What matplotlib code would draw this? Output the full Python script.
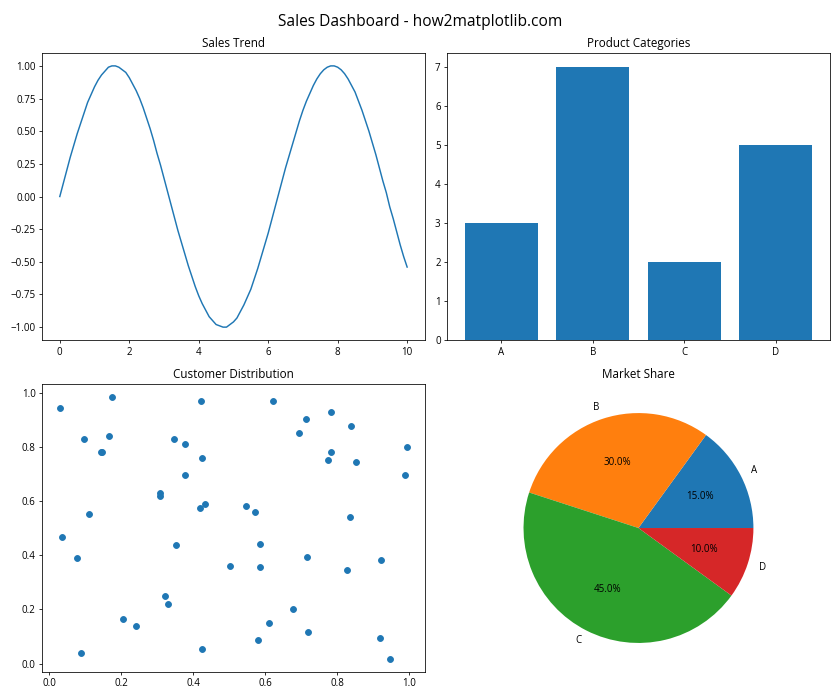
import matplotlib
matplotlib.use("Agg")
import matplotlib.pyplot as plt

plt.rcParams['font.family'] = ['Open Sans', 'DejaVu Sans']

# Sales trend (x from 0 to 10 in steps of 0.1)
trend_x = [i / 10 for i in range(101)]
trend_y = [0.00, 0.10, 0.20, 0.30, 0.39, 0.48, 0.56, 0.64, 0.72, 0.78,
           0.84, 0.89, 0.93, 0.96, 0.99, 1.00, 1.00, 0.99, 0.97, 0.95,
           0.91, 0.86, 0.81, 0.75, 0.68, 0.60, 0.52, 0.43, 0.33, 0.24,
           0.14, 0.04, -0.06, -0.16, -0.26, -0.35, -0.44, -0.53, -0.61, -0.69,
           -0.76, -0.82, -0.87, -0.92, -0.95, -0.98, -0.99, -1.00, -1.00, -0.98,
           -0.96, -0.93, -0.88, -0.83, -0.77, -0.71, -0.63, -0.55, -0.46, -0.37,
           -0.28, -0.18, -0.08, 0.02, 0.12, 0.22, 0.31, 0.40, 0.49, 0.58,
           0.66, 0.73, 0.79, 0.85, 0.90, 0.94, 0.97, 0.99, 1.00, 1.00,
           0.99, 0.97, 0.94, 0.90, 0.85, 0.80, 0.73, 0.66, 0.58, 0.50,
           0.41, 0.32, 0.22, 0.12, 0.03, -0.08, -0.17, -0.27, -0.37, -0.46,
           -0.54]

# Product categories
categories = ['A', 'B', 'C', 'D']
cat_values = [3, 7, 2, 5]

# Customer distribution
cust_x = [0.030, 0.174, 0.097, 0.166, 0.144, 0.147, 0.307, 0.307, 0.111, 0.036,
          0.077, 0.088, 0.205, 0.241, 0.321, 0.331, 0.352, 0.346, 0.377, 0.377,
          0.421, 0.426, 0.418, 0.434, 0.424, 0.501, 0.623, 0.712, 0.784, 0.695,
          0.839, 0.994, 0.784, 0.773, 0.853, 0.988, 0.548, 0.573, 0.836, 0.587,
          0.587, 0.717, 0.922, 0.828, 0.678, 0.612, 0.720, 0.581, 0.919, 0.947]
cust_y = [0.942, 0.983, 0.828, 0.840, 0.783, 0.780, 0.628, 0.618, 0.554, 0.469,
          0.388, 0.037, 0.166, 0.140, 0.248, 0.218, 0.436, 0.831, 0.809, 0.698,
          0.968, 0.758, 0.573, 0.588, 0.052, 0.362, 0.968, 0.905, 0.928, 0.850,
          0.876, 0.798, 0.783, 0.750, 0.743, 0.698, 0.581, 0.558, 0.543, 0.440,
          0.358, 0.392, 0.381, 0.344, 0.200, 0.148, 0.115, 0.085, 0.096, 0.018]

# Market share
share_labels = ['A', 'B', 'C', 'D']
share_values = [15, 30, 45, 10]

fig, axs = plt.subplots(2, 2, figsize=(12, 10), dpi=70)
fig.suptitle('Sales Dashboard - how2matplotlib.com', fontsize=16)

axs[0, 0].plot(trend_x, trend_y)
axs[0, 0].set_title('Sales Trend')

axs[0, 1].bar(categories, cat_values)
axs[0, 1].set_title('Product Categories')

axs[1, 0].scatter(cust_x, cust_y)
axs[1, 0].set_title('Customer Distribution')

axs[1, 1].pie(share_values, labels=share_labels, autopct='%1.1f%%')
axs[1, 1].set_title('Market Share')

plt.tight_layout()
fig.savefig('out.png', dpi=70)
